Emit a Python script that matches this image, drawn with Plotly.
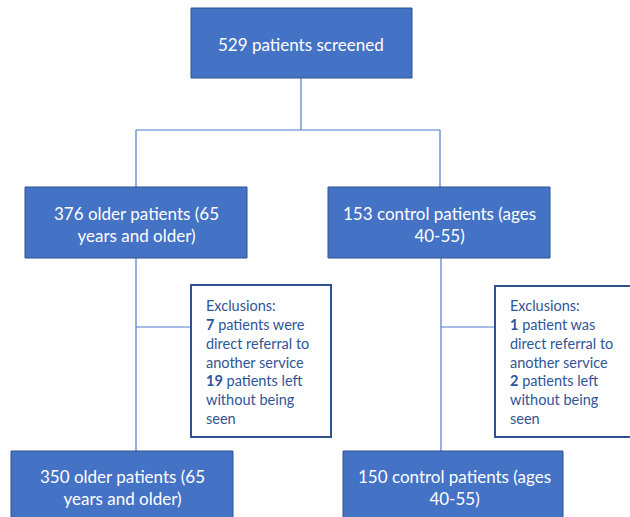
import plotly.graph_objects as go

# ---- content (text) ----
top_label = "529 patients screened"
group_labels = ["376 older patients (65<br>years and older)", "153 control patients (ages<br>40-55)"]
final_labels = ["350 older patients (65<br>years and older)", "150 control patients (ages<br>40-55)"]
exclusion_labels = [
    "Exclusions:<br><b>7</b> patients were<br>direct referral to<br>another service<br><b>19</b> patients left<br>without being<br>seen",
    "Exclusions:<br><b>1</b> patient was<br>direct referral to<br>another service<br><b>2</b> patients left<br>without being<br>seen",
]

# ---- layout geometry ----
FILL = "#4472C4"
EDGE = "#2F528F"
LINE = "#4F7BCB"
TXT_DARK = "#2F5597"
FONT = "Lato"

top_box = (191, 8, 412, 78)
group_boxes = [(25, 187, 247, 258), (328, 187, 550, 258)]
final_boxes = [(11, 451, 233, 524), (343, 451, 563, 524)]
excl_boxes = [(191, 285, 331, 437), (495, 286, 634, 437)]

fig = go.Figure()
shapes = []

def line(x0, y0, x1, y1):
    shapes.append(dict(type="line", x0=x0, y0=y0, x1=x1, y1=y1, xref="x", yref="y",
                       line=dict(color=LINE, width=1.2), layer="below"))

def box(b, fill, edge, w=1):
    shapes.append(dict(type="rect", x0=b[0], y0=b[1], x1=b[2], y1=b[3], xref="x", yref="y",
                       fillcolor=fill, line=dict(color=edge, width=w), layer="above"))

# connectors
line(301, 78, 301, 130)
line(136, 130, 440, 130)
line(136, 130, 136, 187)
line(440, 130, 440, 187)
line(136, 258, 136, 451)
line(441, 258, 441, 451)
line(136, 327, 191, 327)
line(441, 327, 495, 327)

box(top_box, FILL, EDGE)
for b in group_boxes:
    box(b, FILL, EDGE)
for b in final_boxes:
    box(b, FILL, EDGE)
for b in excl_boxes:
    box(b, "white", EDGE, 2)

ann = []
ann.append(dict(x=301, y=44, text=top_label, showarrow=False,
                font=dict(family=FONT, size=17, color="white")))
for b, t in zip(group_boxes, group_labels):
    ann.append(dict(x=(b[0] + b[2]) / 2, y=224, text=t, showarrow=False,
                    font=dict(family=FONT, size=17, color="white")))
final_cx = [122, 454]
for cx, t in zip(final_cx, final_labels):
    ann.append(dict(x=cx, y=487, text=t, showarrow=False,
                    font=dict(family=FONT, size=17, color="white")))
excl_x = [204, 508]
for x, t in zip(excl_x, exclusion_labels):
    ann.append(dict(x=x, y=362, text=t, showarrow=False, xanchor="left", yanchor="middle",
                    align="left", font=dict(family=FONT, size=14.5, color=TXT_DARK)))

fig.update_layout(
    width=630, height=517,
    margin=dict(l=0, r=0, t=0, b=0),
    paper_bgcolor="white", plot_bgcolor="white",
    xaxis=dict(range=[0, 630], visible=False, fixedrange=True),
    yaxis=dict(range=[517, 0], visible=False, fixedrange=True),
    shapes=shapes, annotations=ann, showlegend=False,
)
fig.write_html("out.html", config={"displayModeBar": False},
               post_script="document.body.style.margin='0';document.body.style.overflow='hidden';")
